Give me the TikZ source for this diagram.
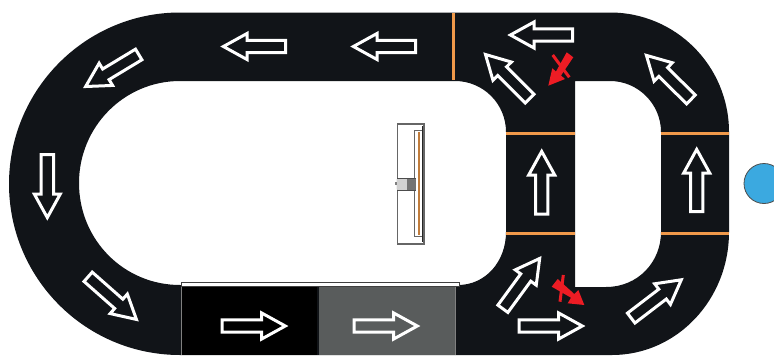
\documentclass[tikz,border=0pt]{standalone}
\definecolor{track}{HTML}{111418}
\definecolor{stopgray}{HTML}{595C5C}
\definecolor{seam}{HTML}{F0994A}
\definecolor{stopred}{HTML}{ED1C24}
\definecolor{sensor}{HTML}{3BA9E0}
\tikzset{
  flowarrow/.style={draw=white,line width=3pt,fill=none,miter limit=10},
  seamline/.style={draw=seam,line width=3pt},
  redbar/.style={draw=stopred,line width=3pt},
  redhead/.style={fill=stopred,draw=none},
  fanline/.style={draw=#1,line width=1.1pt}
}
\newcommand\flow[4]{%
  \pgfmathsetmacro\flowang{atan2(-(#4-#2),#3-#1)}%
  \pgfmathsetmacro\flowlen{veclen(#3-#1,#4-#2)}%
  \begin{scope}[shift={(#1,#2)},rotate=\flowang]
    \draw[flowarrow] (1.5,-6.2) -- (\flowlen-27,-6.2) -- (\flowlen-27,-13)
      -- (\flowlen-3.4,0) -- (\flowlen-27,13) -- (\flowlen-27,6.2) -- (1.5,6.2) -- cycle;
  \end{scope}%
}
\begin{document}
\begin{tikzpicture}[x=1pt,y=-1pt]
\useasboundingbox (0,0) rectangle (774,356);
\clip (0,0) rectangle (774,356);
% track with its two openings
\fill[track,even odd rule]
  (180,12.5) -- (610,12.5) .. controls (675.7,12.5) and (729,66) .. (729,132)
  -- (729,232) .. controls (729,300) and (676.6,355) .. (612,355)
  -- (180,355) .. controls (85.6,355) and (9,278.4) .. (9,184)
  .. controls (9,89.6) and (85.6,12.5) .. (180,12.5) -- cycle
  (180,81) -- (455,81) .. controls (483.2,81) and (506,103.8) .. (506,132)
  -- (506,232) .. controls (506,261) and (486,285) .. (458,285)
  -- (180,285) .. controls (124,285) and (79,240) .. (79,183)
  .. controls (79,126.6) and (124.2,81) .. (180,81) -- cycle
  (575,81) -- (610,81) .. controls (638,81) and (661,104) .. (661,132)
  -- (661,232) .. controls (661,262) and (638,287) .. (606,287)
  -- (575,287) -- cycle;
% stations on the lower straight
\fill[black] (181,286) rectangle (317,355);
\fill[stopgray] (319,287) rectangle (455,355);
\draw[gray,line width=.6pt] (181,286) -- (181,355);
\draw[gray,line width=.6pt] (455,287) -- (455,355);
\draw[fill=white,draw=black!75,line width=.8pt] (181,282) rectangle (459,286);
% seams
\draw[seamline] (453,13) -- (453,80);
\draw[seamline] (506,133.5) -- (575,133.5);
\draw[seamline] (661,133.5) -- (729,133.5);
\draw[seamline] (506,233) -- (575,233);
\draw[seamline] (661,233) -- (729,233);
% flow arrows
\flow{287}{46.5}{220}{46.5}
\flow{417}{46.5}{350}{46.5}
\flow{574}{35}{507}{35}
\flow{530.6}{99.7}{483}{52}
\flow{692}{100.5}{644}{53}
\flow{541.7}{215.7}{541.7}{148}
\flow{696.7}{213}{696.7}{146}
\flow{502}{310}{541.7}{255.7}
\flow{517.7}{326}{585.7}{326}
\flow{630}{319}{684}{277.7}
\flow{220.7}{326}{288.7}{326}
\flow{352.7}{326}{420.7}{326}
\flow{140}{53.7}{82.7}{88.3}
\flow{47.3}{153}{47.3}{221}
\flow{87}{275.8}{139}{321.7}
% blocked directions
\draw[redbar] (552.7,55) -- (569.3,77.3);
\fill[redhead] (566.7,52.3) -- (573.3,57.3) -- (561,75.5) -- (565,79) -- (548.3,85.7) -- (552.3,68.3) -- (556,71.5) -- cycle;
\draw[redbar] (563.3,275) -- (560,301.7);
\fill[redhead] (551.7,286.7) -- (557.7,279) -- (574.3,294) -- (578.3,290) -- (584.3,305) -- (567.7,303.3) -- (571,297.7) -- cycle;
% sensor
\draw[fill=sensor,draw=black!70,line width=.8pt] (764,183.5) circle[radius=20];
% fan seen from the side
\draw[fanline=black!60] (397.3,124) rectangle (424,244);
\draw[fanline=black!60] (414.3,130.7) rectangle (423.3,236.7);
\fill[seam!70!brown!85!black] (418.3,132) rectangle (420.3,235);
\draw[black!85,line width=1.2pt] (422.3,126) -- (422.3,242);
\fill[black!18,rounded corners=1pt] (396.7,178.3) rectangle (408,190);
\fill[black!55] (407,178.3) rectangle (416,190);
\fill[black!50] (394.5,181.5) rectangle (397,185);
\draw[black!70,line width=.7pt] (397.3,178.3) -- (416,178.3) (397.3,190) -- (416,190);
\end{tikzpicture}
\end{document}
